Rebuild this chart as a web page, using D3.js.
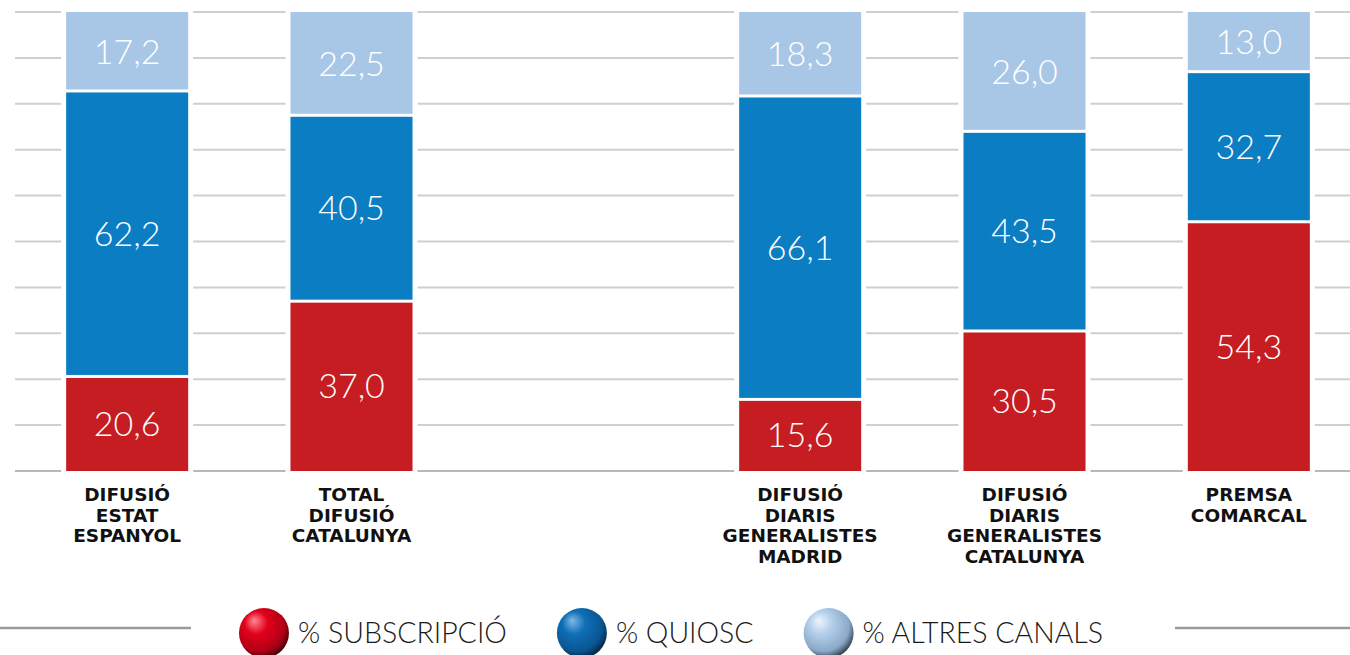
<!DOCTYPE html>
<html>
<head>
<meta charset="utf-8">
<script src="https://cdn.jsdelivr.net/npm/d3@7"></script>
<style>
  body { margin: 0; background: #fff; }
  svg { display: block; }
  .val { font-family: Lato, "Open Sans", sans-serif; font-weight: 300; fill: #fff; }
  .cat { font-family: "DejaVu Sans", Lato, sans-serif; font-weight: 700; fill: #111; }
  .leg { font-family: Lato, "Open Sans", sans-serif; font-weight: 300; fill: #1a1a1a; }
</style>
</head>
<body>
<div id="main"></div>
<script>
// categories (each label split into lines) and the three series, in %
var categories = [
    ["DIFUSIÓ", "ESTAT", "ESPANYOL"],
    ["TOTAL", "DIFUSIÓ", "CATALUNYA"],
    ["DIFUSIÓ", "DIARIS", "GENERALISTES", "MADRID"],
    ["DIFUSIÓ", "DIARIS", "GENERALISTES", "CATALUNYA"],
    ["PREMSA", "COMARCAL"]
];
var subscripcio = [20.6, 37.0, 15.6, 30.5, 54.3];
var quiosc      = [62.2, 40.5, 66.1, 43.5, 32.7];
var altres      = [17.2, 22.5, 18.3, 26.0, 13.0];
var seriesNames = ["% SUBSCRIPCIÓ", "% QUIOSC", "% ALTRES CANALS"];
var yTicks = [0, 10, 20, 30, 40, 50, 60, 70, 80, 90, 100];

var ctx = {
    w: 1350,
    h: 655,
    colors: ["#c61d23", "#0b7dc3", "#a8c6e6"],
    sphere: [
        ["#ff8a96", "#e3001b", "#b00016", "#3b0007"],
        ["#7fb8e6", "#0f6fb6", "#0a5592", "#06203a"],
        ["#eef5fc", "#b3cfea", "#8aa9c8", "#2a3440"]
    ]
};

var fmt = function(v){ return v.toFixed(1).replace(".", ","); };

var createViz = function(){
    var svg = d3.select("#main").append("svg")
        .attr("width", ctx.w).attr("height", ctx.h);

    // band slots: a blank slot between the two groups of bars
    var keys = ["c0", "c1", "gap", "c2", "c3", "c4"];
    var x = d3.scaleBand().domain(keys).range([15, 1361])
        .paddingInner(0.456).paddingOuter(0.228);
    var y = d3.scaleLinear().domain([0, 100]).range([471, 12]);
    var barKeys = ["c0", "c1", "c2", "c3", "c4"];

    // gridlines, broken around each bar
    var grid = svg.append("g");
    var pieces = [];
    var prev = 15;
    barKeys.forEach(function(k){
        pieces.push([prev, x(k) - 5]);
        prev = x(k) + x.bandwidth() + 5;
    });
    pieces.push([prev, ctx.w]);
    yTicks.forEach(function(t){
        pieces.forEach(function(p){
            grid.append("line")
                .attr("x1", p[0]).attr("x2", p[1])
                .attr("y1", y(t)).attr("y2", y(t))
                .style("stroke", t === 0 ? "#b8b8b8" : "#cfcfcf")
                .style("stroke-width", 2);
        });
    });

    // stacked data
    var rows = barKeys.map(function(k, i){
        return {key: k, s: subscripcio[i], q: quiosc[i], a: altres[i]};
    });
    var stack = d3.stack().keys(["s", "q", "a"])(rows);

    var bars = svg.append("g");
    stack.forEach(function(layer, li){
        layer.forEach(function(d){
            var top = y(d[1]), bot = y(d[0]);
            bars.append("rect")
                .attr("x", x(d.data.key))
                .attr("width", x.bandwidth())
                .attr("y", top + (li === 2 ? 0 : 1.5))
                .attr("height", bot - top - (li === 2 ? 0 : 1.5) - (li === 0 ? 0 : 1.5))
                .attr("fill", ctx.colors[li]);
            bars.append("text")
                .attr("class", "val")
                .attr("x", x(d.data.key) + x.bandwidth() / 2)
                .attr("y", (top + bot) / 2)
                .attr("dy", "0.36em")
                .attr("text-anchor", "middle")
                .style("font-size", "34px")
                .text(fmt(d[1] - d[0]));
        });
    });

    // category labels
    var cats = svg.append("g");
    barKeys.forEach(function(k, i){
        categories[i].forEach(function(line, j){
            cats.append("text")
                .attr("class", "cat")
                .attr("text-anchor", "middle")
                .style("font-size", "18.5px")
                .attr("x", x(k) + x.bandwidth() / 2)
                .attr("y", 501 + j * 20.5)
                .text(line);
        });
    });

    // legend
    var defs = svg.append("defs");
    ctx.sphere.forEach(function(c, i){
        var g = defs.append("radialGradient").attr("id", "sph" + i)
            .attr("cx", "0.42").attr("cy", "0.38").attr("r", "0.66")
            .attr("fx", "0.3").attr("fy", "0.25");
        g.append("stop").attr("offset", "0").attr("stop-color", c[0]);
        g.append("stop").attr("offset", "0.35").attr("stop-color", c[1]);
        g.append("stop").attr("offset", "0.78").attr("stop-color", c[2]);
        g.append("stop").attr("offset", "1").attr("stop-color", c[3]);
    });

    var leg = svg.append("g");
    var r = 25, gapTxt = 9, gapItem = 50, ly = 633;
    var items = seriesNames.map(function(name, i){
        var t = leg.append("text").attr("class", "leg")
            .style("font-size", "28.5px").attr("y", ly).attr("dy", "0.36em").text(name);
        return {t: t, w: t.node().getComputedTextLength(), i: i};
    });
    var total = d3.sum(items, function(d){ return 2 * r + gapTxt + d.w; }) + gapItem * (items.length - 1);
    var cx = 671 - total / 2;
    var start = cx;
    items.forEach(function(d){
        leg.append("circle").attr("cx", cx + r).attr("cy", ly).attr("r", r)
            .attr("fill", "url(#sph" + d.i + ")");
        d.t.attr("x", cx + 2 * r + gapTxt);
        cx += 2 * r + gapTxt + d.w + gapItem;
    });
    var end = cx - gapItem;
    leg.append("line").attr("x1", 0).attr("x2", start - 48)
        .attr("y1", 628).attr("y2", 628).style("stroke", "#9a9a9a").style("stroke-width", 2.5);
    leg.append("line").attr("x1", end + 72).attr("x2", ctx.w)
        .attr("y1", 628).attr("y2", 628).style("stroke", "#9a9a9a").style("stroke-width", 2.5);
};

createViz();
</script>
</body>
</html>
